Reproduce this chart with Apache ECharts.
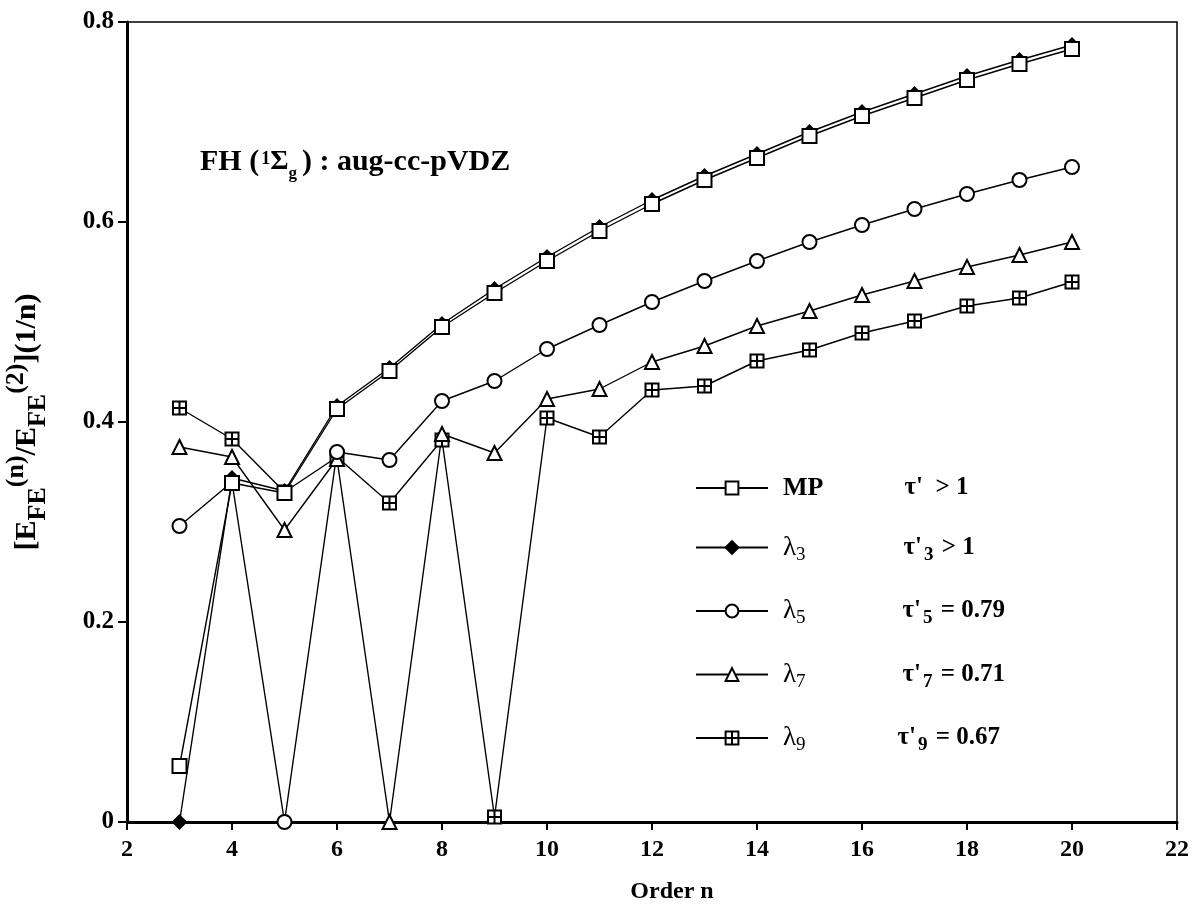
<!DOCTYPE html>
<html>
<head>
<meta charset="utf-8">
<script src="https://cdn.jsdelivr.net/npm/echarts@6/dist/echarts.min.js"></script>
<style>
  html, body { margin: 0; background: #fff; }
  #chart { width: 1196px; height: 907px; }
</style>
</head>
<body>
<div id="chart"></div>
<script>
// perturbation order n
const orders = [3, 4, 5, 6, 7, 8, 9, 10, 11, 12, 13, 14, 15, 16, 17, 18, 19, 20];

// [E_FE(n)/E_FE(2)]^(1/n)
const mpValues = [0.056, 0.339, 0.329, 0.413, 0.451, 0.495, 0.529, 0.561, 0.591, 0.618, 0.642, 0.664, 0.686, 0.706, 0.724, 0.742, 0.758, 0.773];
const lambda3Values = [0.0, 0.344, 0.331, 0.416, 0.454, 0.498, 0.533, 0.565, 0.595, 0.622, 0.646, 0.668, 0.690, 0.710, 0.728, 0.746, 0.762, 0.777];
const lambda5Values = [0.296, 0.340, 0.0, 0.370, 0.362, 0.421, 0.441, 0.473, 0.497, 0.520, 0.541, 0.561, 0.580, 0.597, 0.613, 0.628, 0.642, 0.655];
const lambda7Values = [0.375, 0.365, 0.292, 0.363, 0.0, 0.388, 0.369, 0.423, 0.433, 0.460, 0.476, 0.496, 0.511, 0.527, 0.541, 0.555, 0.567, 0.580];
const lambda9Values = [0.414, 0.383, 0.330, 0.365, 0.319, 0.382, 0.005, 0.404, 0.385, 0.432, 0.436, 0.461, 0.472, 0.489, 0.501, 0.516, 0.524, 0.540];

const xTicks = [2, 4, 6, 8, 10, 12, 14, 16, 18, 20, 22];
const yTicks = [0, 0.2, 0.4, 0.6, 0.8];

const serif = "'Liberation Serif', 'DejaVu Serif', serif";
const boxSymbol = 'path://M0,0H10V10H0Z M5,0V10 M0,5H10';

function toPairs(values) {
  return orders.map((n, i) => [n, values[i]]);
}

// legend text: label column + tau column
const legendText = {
  MP: "{b|MP}{gap1|}{t|τ'  > 1}",
  l3: "{l|λ}{ls|3}{gap2|}{t|τ'}{ts|3}{t| > 1}",
  l5: "{l|λ}{ls|5}{gap3|}{t|τ'}{ts|5}{t| = 0.79}",
  l7: "{l|λ}{ls|7}{gap3|}{t|τ'}{ts|7}{t| = 0.71}",
  l9: "{l|λ}{ls|9}{gap4|}{t|τ'}{ts|9}{t| = 0.67}",
};

function makeSeries(name, values, symbol, size, filled) {
  return {
    name: name,
    type: 'line',
    data: toPairs(values),
    symbol: symbol,
    symbolSize: size,
    showAllSymbol: true,
    lineStyle: { color: '#000', width: 1.4 },
    itemStyle: {
      color: filled ? '#000' : '#fff',
      borderColor: '#000',
      borderWidth: 2,
    },
    emphasis: { disabled: true },
    animation: false,
  };
}

const chart = echarts.init(document.getElementById('chart'));

const option = {
  backgroundColor: '#fff',
  animation: false,
  title: {
    text: '{m|FH (}{sp|1}{g|Σ}{sb|g}{m|) : aug-cc-pVDZ}',
    left: 195,
    top: 137,
    textStyle: {
      rich: {
        m: { fontFamily: serif, fontWeight: 'bold', fontSize: 30, color: '#000', lineHeight: 40 },
        sp: { fontFamily: serif, fontSize: 18, color: '#000', verticalAlign: 'top', lineHeight: 18, padding: [8, 0, 0, 2] },
        g: { fontFamily: serif, fontSize: 28, color: '#000', lineHeight: 40 },
        sb: { fontFamily: serif, fontWeight: 'bold', fontSize: 17, color: '#000', verticalAlign: 'bottom', lineHeight: 17, padding: [0, 5, 0, 0] },
      },
    },
  },
  legend: {
    orient: 'vertical',
    left: 690,
    top: 470,
    itemWidth: 72,
    itemHeight: 16,
    itemGap: 33,
    data: ['MP', 'l3', 'l5', 'l7', 'l9'],
    formatter: (name) => legendText[name],
    textStyle: {
      color: '#000',
      rich: {
        b: { fontFamily: serif, fontWeight: 'bold', fontSize: 26, lineHeight: 34, padding: [0, 0, 0, 10] },
        l: { fontFamily: serif, fontSize: 27, lineHeight: 34, padding: [0, 0, 0, 10] },
        ls: { fontFamily: serif, fontSize: 19, verticalAlign: 'bottom', lineHeight: 19 },
        t: { fontFamily: serif, fontWeight: 'bold', fontSize: 25, lineHeight: 34 },
        ts: { fontFamily: serif, fontWeight: 'bold', fontSize: 19, verticalAlign: 'bottom', lineHeight: 19, padding: [0, 2, 0, 2] },
        gap1: { width: 81 },
        gap2: { width: 98 },
        gap3: { width: 97 },
        gap4: { width: 92 },
      },
    },
  },
  grid: {
    left: 127, right: 19, top: 22, bottom: 85,
    outerBoundsMode: 'none',
    containLabel: false,
    show: true, borderColor: '#000', borderWidth: 1.5, backgroundColor: 'transparent',
  },
  xAxis: {
    type: 'value',
    min: 2,
    max: 22,
    interval: 2,
    name: 'Order n',
    nameLocation: 'middle',
    nameGap: 58,
    nameTextStyle: { fontFamily: serif, fontWeight: 'bold', fontSize: 24, color: '#000', padding: [0, 0, 0, 40] },
    axisLine: { lineStyle: { color: '#000', width: 3 } },
    axisTick: { show: true, inside: false, length: 8, lineStyle: { color: '#000', width: 2 } },
    axisLabel: {
      fontFamily: serif, fontWeight: 'bold', fontSize: 24, color: '#000', margin: 16,
      formatter: (v) => (xTicks.includes(v) ? String(v) : ''),
    },
    splitLine: { show: false },
  },
  yAxis: {
    type: 'value',
    min: 0,
    max: 0.8,
    interval: 0.2,
    name: '{m|[E}{sb|FE}{sp|(n)}{m|/E}{sb|FE}{sp|(2)}{m|](1/n)}',
    nameLocation: 'middle',
    nameRotate: 90,
    nameGap: 76,
    nameTextStyle: {
      color: '#000',
      rich: {
        m: { fontFamily: serif, fontWeight: 'bold', fontSize: 30, lineHeight: 48 },
        sb: { fontFamily: serif, fontWeight: 'bold', fontSize: 26, verticalAlign: 'bottom', lineHeight: 26 },
        sp: { fontFamily: serif, fontWeight: 'bold', fontSize: 26, verticalAlign: 'top', lineHeight: 26 },
      },
    },
    axisLine: { lineStyle: { color: '#000', width: 3 } },
    axisTick: { show: true, inside: false, length: 9, lineStyle: { color: '#000', width: 2 } },
    axisLabel: {
      fontFamily: serif, fontWeight: 'bold', fontSize: 25, color: '#000', margin: 13,
      formatter: (v) => {
        const hit = yTicks.find((t) => Math.abs(t - v) < 1e-9);
        if (hit === undefined) return '';
        return hit === 0 ? '0' : hit.toFixed(1);
      },
    },
    splitLine: { show: false },
  },
  series: [
    makeSeries('l9', lambda9Values, boxSymbol, 13, false),
    makeSeries('l7', lambda7Values, 'triangle', 14, false),
    makeSeries('l5', lambda5Values, 'circle', 14, false),
    makeSeries('l3', lambda3Values, 'diamond', 13, true),
    makeSeries('MP', mpValues, 'rect', 14, false),
  ],
};

chart.setOption(option);
</script>
</body>
</html>
